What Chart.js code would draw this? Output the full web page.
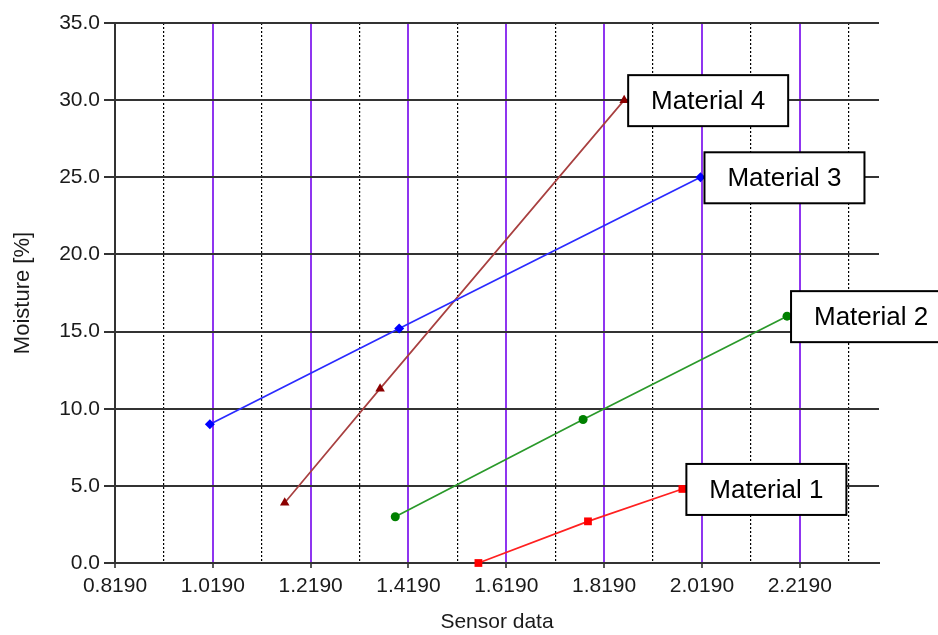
<!DOCTYPE html>
<html>
<head>
<meta charset="utf-8">
<script src="https://cdn.jsdelivr.net/npm/chart.js@4.4.0/dist/chart.umd.min.js"></script>
<style>
  html, body { margin: 0; padding: 0; background: #fff; }
  .chart { width: 938px; height: 635px; }
</style>
</head>
<body>
<div class="chart"><canvas id="chart" width="938" height="635"></canvas></div>
<script>
const seriesNames = ['Material 1', 'Material 2', 'Material 3', 'Material 4'];

const material1X = [1.562, 1.786, 1.979];
const material1Y = [0.0, 2.7, 4.8];
const material2X = [1.392, 1.776, 2.193];
const material2Y = [3.0, 9.3, 16.0];
const material3X = [1.013, 1.400, 2.016];
const material3Y = [9.0, 15.2, 25.0];
const material4X = [1.166, 1.361, 1.860];
const material4Y = [3.9, 11.3, 30.0];

// labelled ticks (purple grid) and the dotted ones between them
const xMajorTicks = [0.819, 1.019, 1.219, 1.419, 1.619, 1.819, 2.019, 2.219];
const xMinorTicks = [0.919, 1.119, 1.319, 1.519, 1.719, 1.919, 2.119, 2.319];
const yTicks = [0, 5, 10, 15, 20, 25, 30, 35];

const toPoints = (xs, ys) => xs.map((x, i) => ({ x: x, y: ys[i] }));
const isMajor = v => xMajorTicks.some(m => Math.abs(m - v) < 1e-6);

const tickFont = { family: '"Liberation Sans", Arial, sans-serif', size: 21 };

// boxed name next to the last point of each series
const labelBoxPlugin = {
  id: 'labelBoxes',
  afterDatasetsDraw(chart) {
    const ctx = chart.ctx;
    ctx.save();
    chart.data.datasets.forEach((ds, i) => {
      const pts = chart.getDatasetMeta(i).data;
      const last = pts[pts.length - 1];
      const left = last.x + 4;
      const top = last.y - 25;
      ctx.fillStyle = '#fff';
      ctx.fillRect(left, top, 160, 51);
      ctx.lineWidth = 2;
      ctx.strokeStyle = '#000';
      ctx.strokeRect(left, top, 160, 51);
      ctx.fillStyle = '#000';
      ctx.font = '26px "Liberation Sans", Arial, sans-serif';
      ctx.textAlign = 'center';
      ctx.textBaseline = 'middle';
      ctx.fillText(ds.label, left + 80, top + 27);
    });
    ctx.restore();
  }
};

const chart = new Chart(document.getElementById('chart'), {
  type: 'line',
  data: {
    datasets: [{
      label: seriesNames[0],
      data: toPoints(material1X, material1Y),
      borderColor: '#ff2020',
      backgroundColor: '#ff0000',
      pointStyle: 'rect',
      pointRadius: 5.5
    }, {
      label: seriesNames[1],
      data: toPoints(material2X, material2Y),
      borderColor: '#2a992a',
      backgroundColor: '#008000',
      pointStyle: 'circle',
      pointRadius: 4.5
    }, {
      label: seriesNames[2],
      data: toPoints(material3X, material3Y),
      borderColor: '#2a2aff',
      backgroundColor: '#0000ff',
      pointStyle: 'rectRot',
      pointRadius: 5
    }, {
      label: seriesNames[3],
      data: toPoints(material4X, material4Y),
      borderColor: '#a84040',
      backgroundColor: '#8b0000',
      pointStyle: 'triangle',
      pointRadius: 5.5
    }]
  },
  plugins: [labelBoxPlugin],
  options: {
    responsive: false,
    animation: false,
    clip: false,
    elements: {
      line: { borderWidth: 1.7, tension: 0 },
      point: { borderWidth: 0 }
    },
    layout: {
      padding: { top: 23, right: 59, bottom: 0, left: 0 }
    },
    plugins: {
      legend: { display: false },
      tooltip: { enabled: false }
    },
    scales: {
      x: {
        type: 'linear',
        min: 0.819,
        max: 2.381,
        afterBuildTicks(scale) {
          scale.ticks = xMajorTicks.concat(xMinorTicks)
            .sort((a, b) => a - b)
            .map(v => ({ value: v }));
        },
        afterFit(scale) { scale.height = 72; },
        ticks: {
          autoSkip: false,
          maxRotation: 0,
          padding: 6,
          color: '#1a1a1a',
          font: tickFont,
          callback: v => isMajor(v) ? v.toFixed(4) : ''
        },
        grid: {
          color: c => c.tick && isMajor(c.tick.value) ? '#8f35f0' : '#000',
          lineWidth: c => c.tick && isMajor(c.tick.value) ? 2 : 1.2,
          tickColor: c => c.tick && isMajor(c.tick.value) ? '#222' : 'rgba(0,0,0,0)',
          tickWidth: 1.5,
          tickLength: 5
        },
        border: {
          color: '#333',
          width: 2,
          dash: c => c.tick && !isMajor(c.tick.value) ? [2, 2] : []
        },
        title: {
          display: true,
          text: 'Sensor data',
          color: '#1a1a1a',
          font: { family: '"Liberation Sans", Arial, sans-serif', size: 21 },
          padding: { top: 0, bottom: 0 }
        }
      },
      y: {
        min: 0,
        max: 35,
        afterBuildTicks(scale) {
          scale.ticks = yTicks.map(v => ({ value: v }));
        },
        afterFit(scale) { scale.width = 115; },
        ticks: {
          padding: 4,
          color: '#1a1a1a',
          font: tickFont,
          callback: v => v.toFixed(1)
        },
        grid: {
          color: '#333',
          lineWidth: 2,
          tickLength: 11
        },
        border: { color: '#333', width: 2 },
        title: {
          display: true,
          text: 'Moisture [%]',
          color: '#1a1a1a',
          font: { family: '"Liberation Sans", Arial, sans-serif', size: 22 },
          padding: { top: 10, bottom: 0 }
        }
      }
    }
  }
});
</script>
</body>
</html>
